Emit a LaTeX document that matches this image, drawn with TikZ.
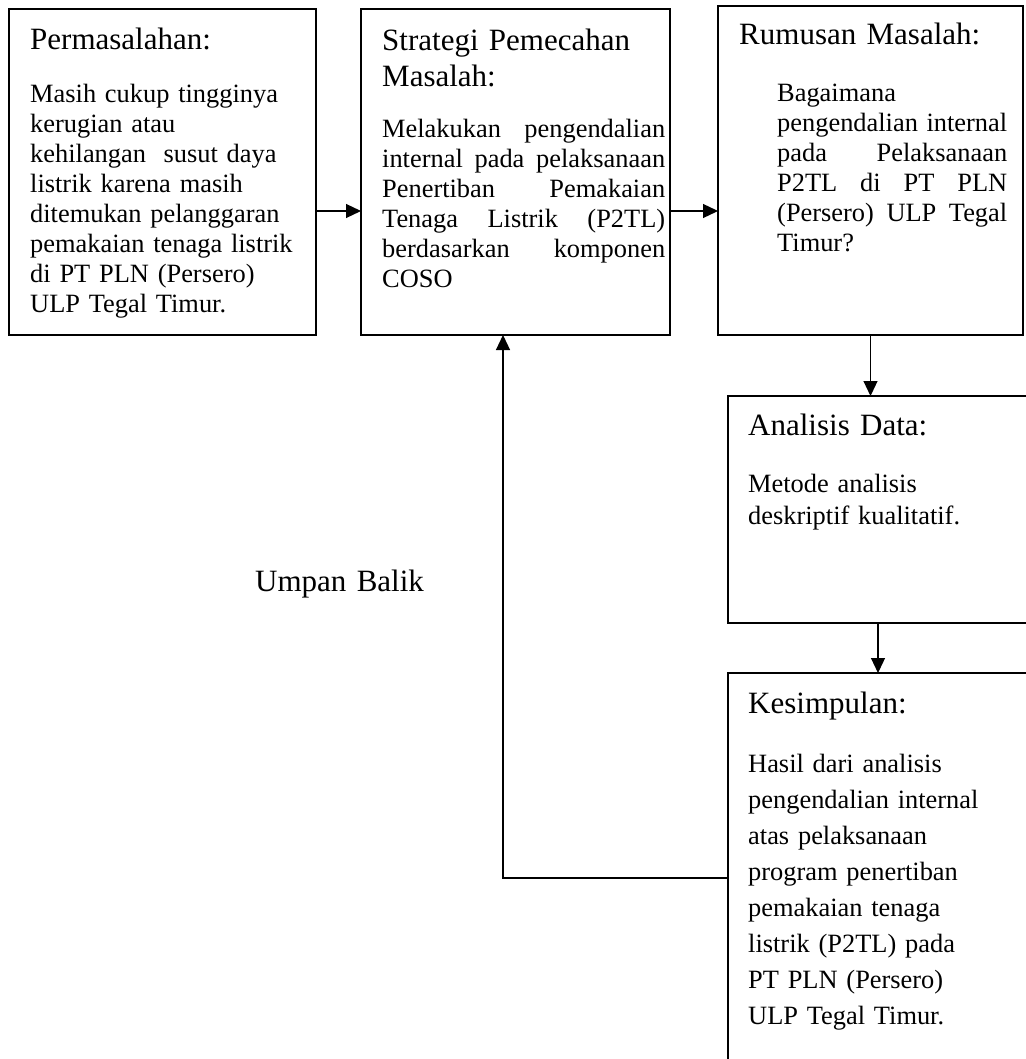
\documentclass[tikz,border=0pt]{standalone}
\usepackage{fontspec}
\setmainfont{Liberation Serif}
\usetikzlibrary{arrows.meta}

\begin{document}
\begin{tikzpicture}[x=1pt, y=-1pt,
  box/.style={draw, rectangle, line width=1.8pt, anchor=north west, inner sep=0pt, outer sep=0pt},
  head/.style={anchor=base west, inner sep=0pt, align=left, font=\fontsize{31}{36}\selectfont},
  body/.style={anchor=base west, inner sep=0pt, align=left, font=\fontsize{26.4}{30}\selectfont},
  arr/.style={line width=1.2pt, -{Triangle[length=15pt,width=14pt]}}]
\useasboundingbox (0,0) rectangle (1025,1059);
\node[box, minimum width=307, minimum height=326] (masalah) at (9,9) {};
\node[box, minimum width=309, minimum height=326] (strategi) at (361,9) {};
\node[box, minimum width=305, minimum height=329] (rumusan) at (718,6) {};
\node[box, minimum width=300, minimum height=227] (analisis) at (728,396) {};
\node[box, minimum width=300, minimum height=410] (simpulan) at (728,673) {};
\node[head, text width=280] (masalahH) at (30,50) {Permasalahan:};
\node[body, text width=275] (masalahT) at (30,103) {Masih cukup tingginya\\ kerugian atau\\ kehilangan\ \ susut daya\\ listrik karena masih\\ ditemukan pelanggaran\\ pemakaian tenaga listrik\\ di PT PLN (Persero)\\ ULP Tegal Timur.};
\node[head, text width=290] (strategiH) at (382,51) {Strategi Pemecahan\\ Masalah:};
\node[body, text width=283, align=justify] (strategiT) at (382,138) {Melakukan pengendalian\linebreak internal pada pelaksanaan\linebreak Penertiban Pemakaian\linebreak Tenaga Listrik (P2TL)\linebreak berdasarkan komponen\linebreak COSO};
\node[head, text width=280] (rumusanH) at (739,45) {Rumusan Masalah:};
\node[body, text width=230, align=justify] (rumusanT) at (777,102) {Bagaimana\newline pengendalian internal\linebreak pada Pelaksanaan\linebreak P2TL di PT PLN\linebreak (Persero) ULP Tegal\linebreak Timur?};
\node[head, text width=270] (analisisH) at (748,435) {Analisis Data:};
\node[body, text width=270, font=\fontsize{26.4}{32}\selectfont] (analisisT) at (748,492) {Metode analisis\\ deskriptif kualitatif.};
\node[head, text width=270] (simpulanH) at (748,713) {Kesimpulan:};
\node[body, text width=270, font=\fontsize{26.4}{36}\selectfont] (simpulanT) at (748,772) {Hasil dari analisis\\ pengendalian internal\\ atas pelaksanaan\\ program penertiban\\ pemakaian tenaga\\ listrik (P2TL) pada\\ PT PLN (Persero)\\ ULP Tegal Timur.};
\node[head, text width=200] (balik) at (255,591) {Umpan Balik};
\coordinate (row) at (0,211);
\draw[arr] (masalah.east |- row) -- (strategi.west |- row);
\draw[arr] (strategi.east |- row) -- (rumusan.west |- row);
\draw[arr] (rumusan.south) -- (rumusan.south |- analisis.north);
\draw[arr] (analisis.south) -- (simpulan.north);
\draw[arr] (simpulan.west) -| ([xshift=-12.5pt]strategi.south);
\end{tikzpicture}
\end{document}
